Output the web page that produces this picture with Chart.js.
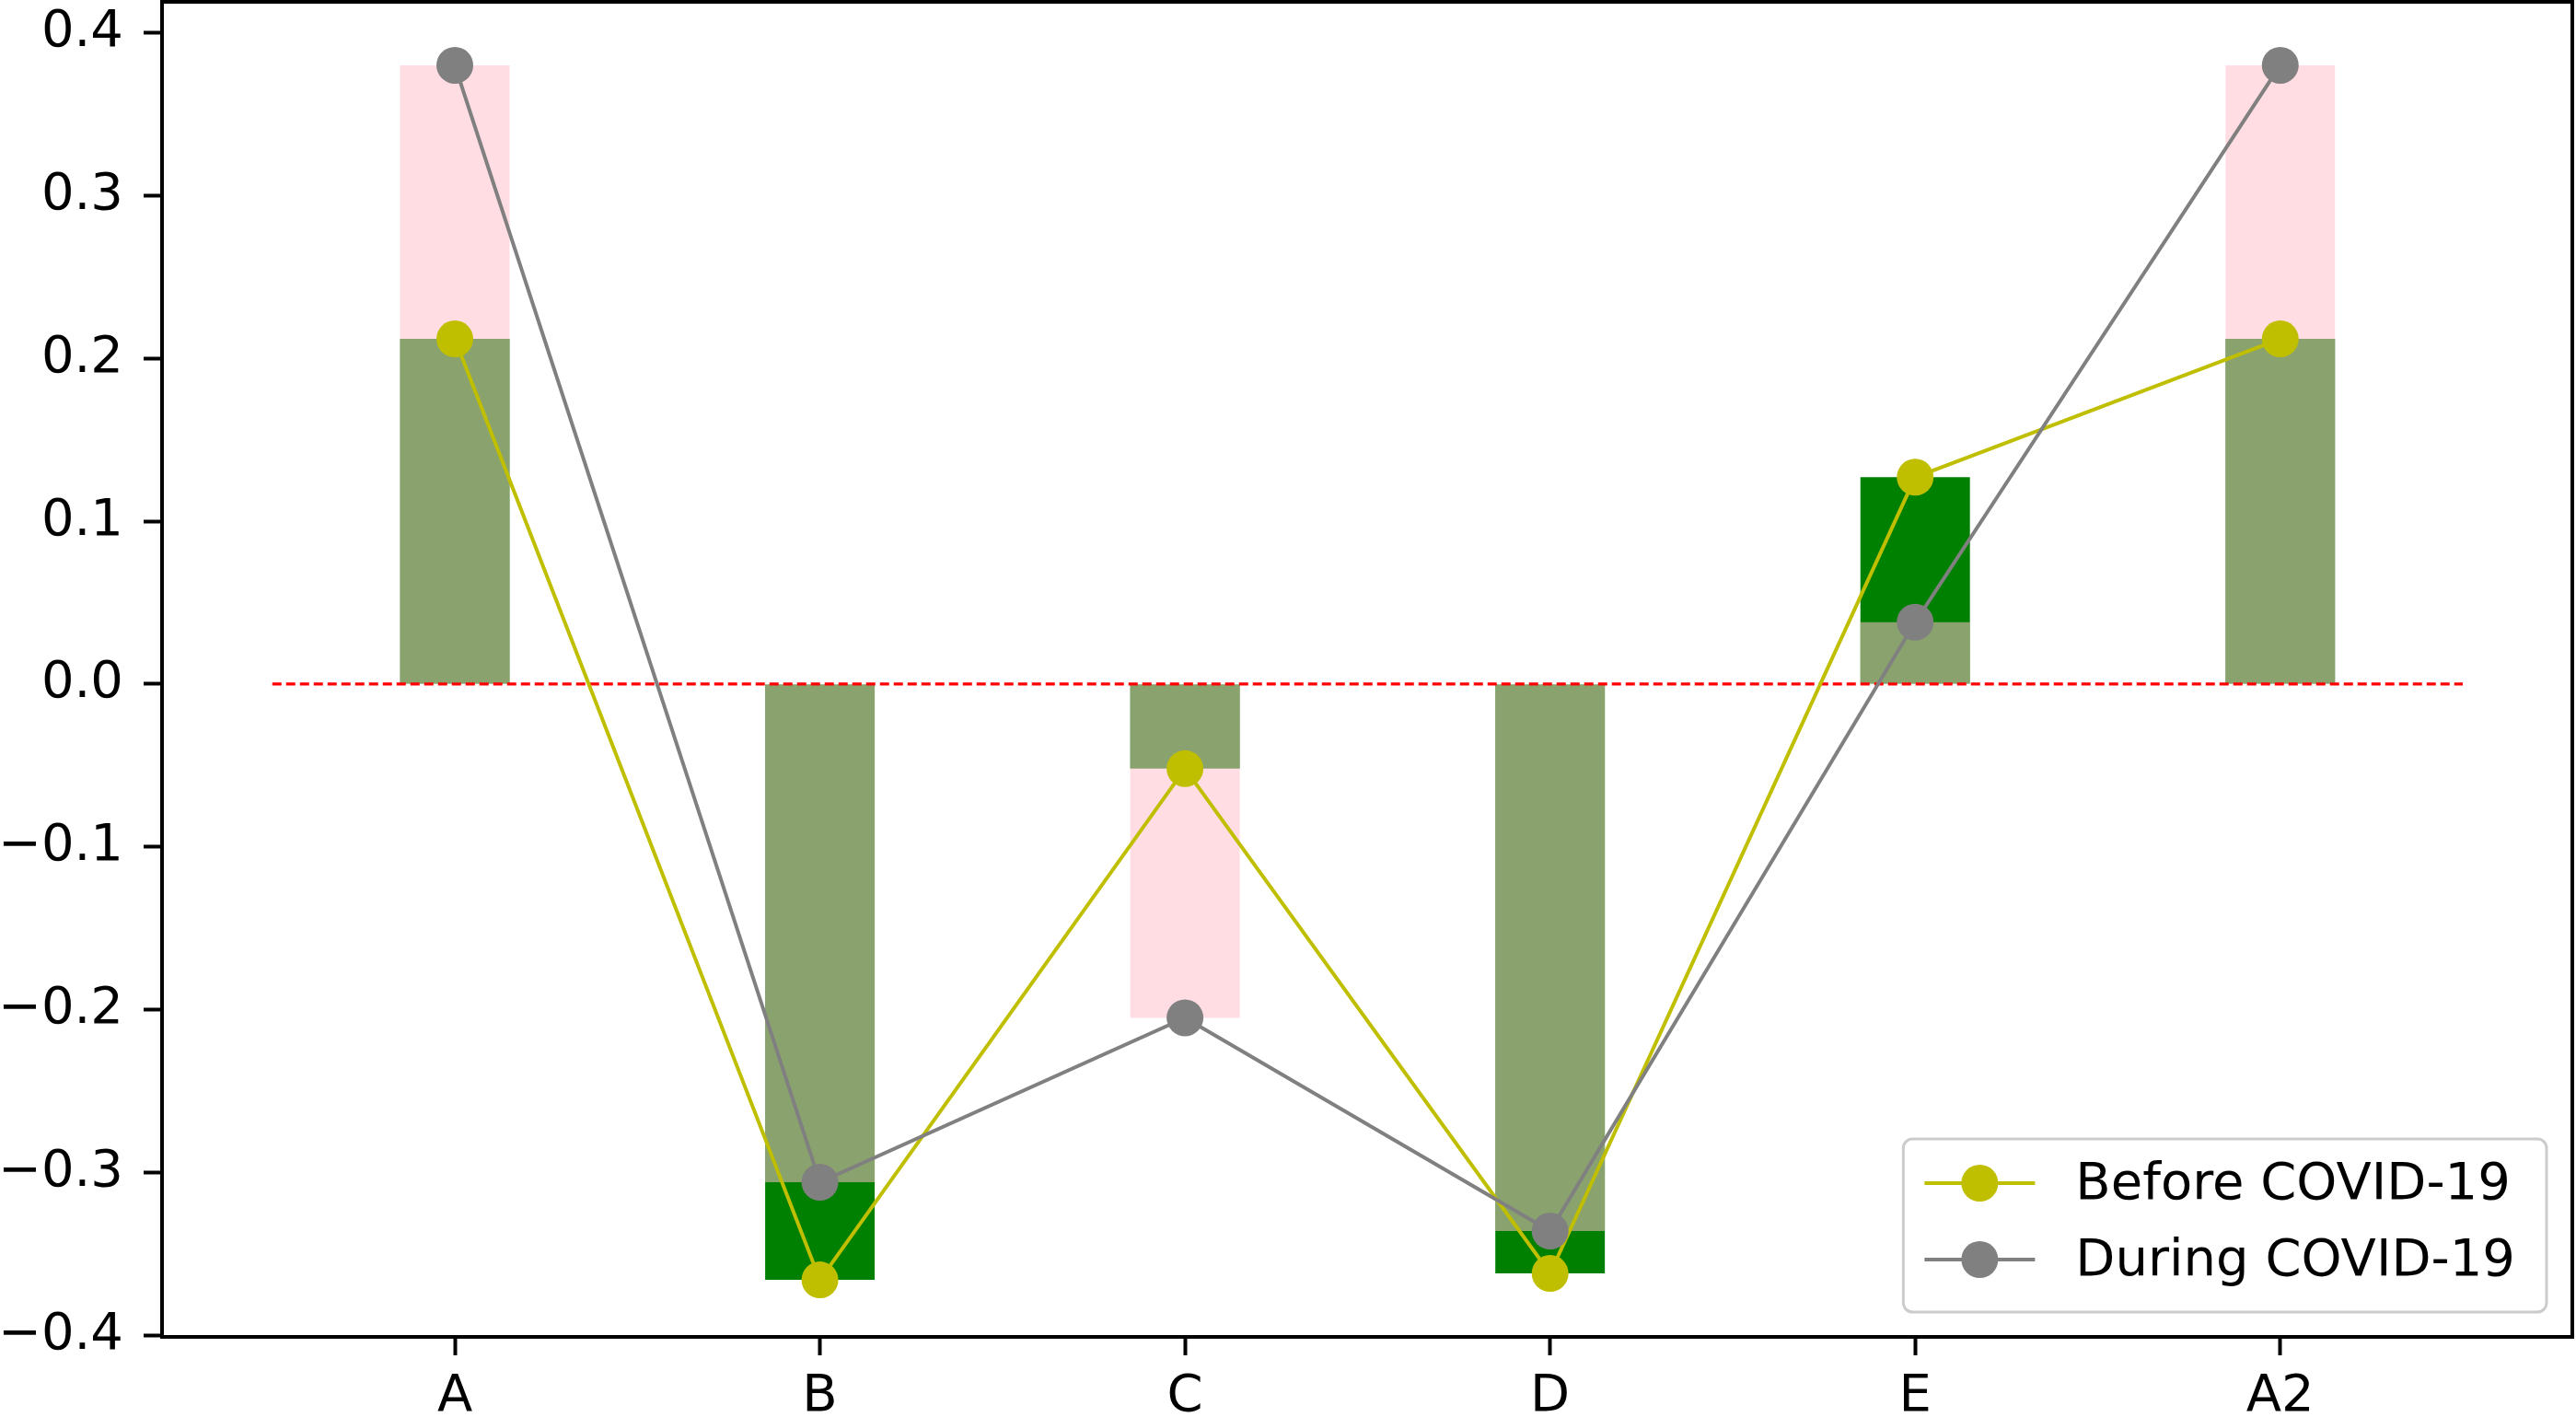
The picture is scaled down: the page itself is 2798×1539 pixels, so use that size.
<!DOCTYPE html>
<html>
<head>
<meta charset="utf-8">
<script src="https://cdn.jsdelivr.net/npm/chart.js@4.4.1/dist/chart.umd.min.js"></script>
<style>
  html, body { margin: 0; padding: 0; background: #fff; }
  #wrap { width: 2798px; height: 1539px; }
</style>
</head>
<body>
<div id="wrap"><canvas id="myChart"></canvas></div>
<script>
let categories = ["A", "B", "C", "D", "E", "A2"];
let beforeCovid = [0.212, -0.366, -0.052, -0.362, 0.127, 0.212];
let duringCovid = [0.380, -0.306, -0.205, -0.336, 0.038, 0.380];
let yTickValues = [-0.4, -0.3, -0.2, -0.1, 0.0, 0.1, 0.2, 0.3, 0.4];
let zeroLineSpan = [-0.5, 5.5];

Chart.defaults.font.family = "'DejaVu Sans'";
Chart.defaults.color = "#000";

function toPoints(values) {
  return values.map((v, i) => ({ x: i, y: v }));
}

// frame on all four sides + matplotlib-like legend in the lower right
const frameAndLegend = {
  id: "frameAndLegend",
  afterDraw(chart) {
    const ctx = chart.ctx;
    const a = chart.chartArea;
    ctx.save();
    ctx.strokeStyle = "#000";
    ctx.lineWidth = 4;
    ctx.strokeRect(a.left, a.top, a.right - a.left, a.bottom - a.top);

    const items = chart.data.datasets.filter(d => d.inLegend);
    ctx.font = "56px 'DejaVu Sans'";
    const pad = 23, handle = 120, gap = 44, rowH = 83;
    const textW = Math.max(...items.map(d => ctx.measureText(d.label).width));
    const w = pad + handle + gap + textW + 34;
    const h = 188;
    const x0 = a.right - 28 - w;
    const y0 = a.bottom - 27 - h;

    ctx.beginPath();
    ctx.roundRect(x0, y0, w, h, 10);
    ctx.fillStyle = "rgba(255,255,255,0.8)";
    ctx.fill();
    ctx.strokeStyle = "#cccccc";
    ctx.lineWidth = 3;
    ctx.stroke();

    items.forEach((d, i) => {
      const cy = y0 + 48 + i * rowH;
      ctx.strokeStyle = d.borderColor;
      ctx.lineWidth = 4;
      ctx.beginPath();
      ctx.moveTo(x0 + pad, cy);
      ctx.lineTo(x0 + pad + handle, cy);
      ctx.stroke();
      ctx.fillStyle = d.borderColor;
      ctx.beginPath();
      ctx.arc(x0 + pad + handle / 2, cy, 20, 0, Math.PI * 2);
      ctx.fill();
      ctx.fillStyle = "#000";
      ctx.textBaseline = "middle";
      ctx.textAlign = "left";
      ctx.fillText(d.label, x0 + pad + handle + gap, cy + 2);
    });
    ctx.restore();
  }
};

let myChart = document.getElementById("myChart").getContext("2d");

let covidChart = new Chart(myChart, {
  type: "bar",
  data: {
    datasets: [
      {
        type: "line",
        label: "Before COVID-19",
        inLegend: true,
        data: toPoints(beforeCovid),
        borderColor: "#bfbf00",
        backgroundColor: "#bfbf00",
        pointBackgroundColor: "#bfbf00",
        borderWidth: 4,
        pointRadius: 20,
        pointHoverRadius: 20,
        pointBorderWidth: 0,
        tension: 0,
        order: 1,
      },
      {
        type: "line",
        label: "During COVID-19",
        inLegend: true,
        data: toPoints(duringCovid),
        borderColor: "#808080",
        backgroundColor: "#808080",
        pointBackgroundColor: "#808080",
        borderWidth: 4,
        pointRadius: 20,
        pointHoverRadius: 20,
        pointBorderWidth: 0,
        tension: 0,
        order: 0,
      },
      {
        type: "line",
        label: "zero",
        data: zeroLineSpan.map(x => ({ x: x, y: 0 })),
        borderColor: "#ff0000",
        borderWidth: 3.3,
        borderDash: [10, 5],
        pointRadius: 0,
        order: 2,
      },
      {
        type: "bar",
        label: "During bars",
        data: toPoints(duringCovid),
        backgroundColor: "rgba(255,192,203,0.54)",
        borderWidth: 0,
        grouped: false,
        barPercentage: 0.3,
        categoryPercentage: 1,
        order: 3,
      },
      {
        type: "bar",
        label: "Before bars",
        data: toPoints(beforeCovid),
        backgroundColor: "#008000",
        borderWidth: 0,
        grouped: false,
        barPercentage: 0.3,
        categoryPercentage: 1,
        order: 4,
      },
    ],
  },
  options: {
    responsive: true,
    maintainAspectRatio: false,
    devicePixelRatio: 1,
    animation: false,
    layout: { autoPadding: false, padding: { top: 2, right: 4, left: 0, bottom: 0 } },
    plugins: {
      legend: { display: false },
      tooltip: { enabled: false },
    },
    scales: {
      x: {
        type: "linear",
        offset: false,
        min: -0.802,
        max: 5.8,
        afterBuildTicks: axis => {
          axis.ticks = categories.map((c, i) => ({ value: i }));
        },
        afterFit: scale => {
          scale.height = 87;
          scale.paddingLeft = 0;
          scale.paddingRight = 0;
        },
        ticks: {
          callback: v => categories[v] ?? "",
          font: { size: 56 },
          color: "#000",
          padding: 12,
          maxRotation: 0,
          autoSkip: false,
        },
        grid: {
          offset: false,
          drawOnChartArea: false,
          tickLength: 20,
          tickWidth: 4,
          tickColor: "#000",
        },
        border: { display: false },
      },
      y: {
        type: "linear",
        min: -0.401,
        max: 0.419,
        afterBuildTicks: axis => {
          axis.ticks = yTickValues.map(v => ({ value: v }));
        },
        afterFit: scale => {
          scale.width = 176;
          scale.paddingTop = 0;
          scale.paddingBottom = 0;
        },
        ticks: {
          callback: v => (v < -1e-9 ? "\u2212" : "") + Math.abs(v).toFixed(1),
          font: { size: 56 },
          color: "#000",
          padding: 22,
        },
        grid: {
          drawOnChartArea: false,
          tickLength: 20,
          tickWidth: 4,
          tickColor: "#000",
        },
        border: { display: false },
      },
    },
  },
  plugins: [frameAndLegend],
});
</script>
</body>
</html>
